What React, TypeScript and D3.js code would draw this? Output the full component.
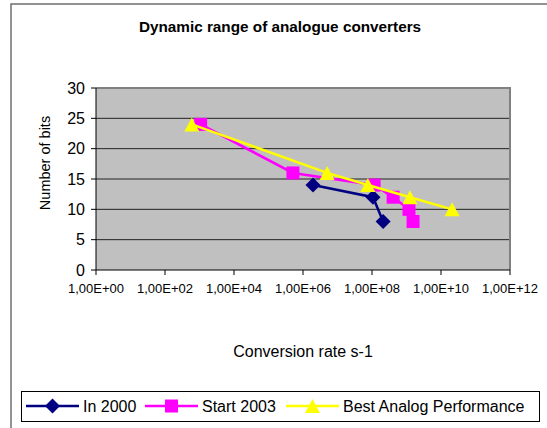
import * as d3 from "d3";

// series: [conversion rate, bits]
const in2000 = [
  [1.95e6, 14],
  [1.07e8, 12],
  [2.1e8, 8],
];
const start2003 = [
  [1.08e3, 24],
  [5.1e5, 16],
  [1.15e8, 14],
  [4.1e8, 12],
  [1.18e9, 10],
  [1.55e9, 8],
];
const bestAnalog = [
  [600, 24],
  [5e6, 16],
  [7.6e7, 14],
  [1.26e9, 12],
  [2.1e10, 10],
];
const xTicks = [1e0, 1e2, 1e4, 1e6, 1e8, 1e10, 1e12];
const yTicks = [0, 5, 10, 15, 20, 25, 30];
const seriesNames = ["In 2000", "Start 2003", "Best Analog Performance"];

const font = "'Liberation Sans', Arial, sans-serif";

// plot area
const left = 96,
  right = 510,
  top = 88,
  bottom = 270;

const x = d3.scaleLog().domain([1, 1e12]).range([left, right]);
const y = d3.scaleLinear().domain([0, 30]).range([bottom, top]);

function fmtExp(v: number) {
  const e = Math.round(Math.log10(v));
  return "1,00E+" + String(e).padStart(2, "0");
}

// marker shapes
function marker(kind: string, cx: number, cy: number, color: string, key: any) {
  if (kind === "diamond") {
    const r = 7.5;
    return (
      <path key={key} d={`M${cx},${cy - r}L${cx + r},${cy}L${cx},${cy + r}L${cx - r},${cy}Z`} fill={color} />
    );
  }
  if (kind === "square") {
    const s = 13;
    return <rect key={key} x={cx - s / 2} y={cy - s / 2} width={s} height={s} fill={color} />;
  }
  const w = 15,
    h = 14;
  return (
    <path
      key={key}
      d={`M${cx},${cy - h / 2}L${cx + w / 2},${cy + h / 2}L${cx - w / 2},${cy + h / 2}Z`}
      fill={color}
    />
  );
}

const series = [
  { name: seriesNames[0], data: in2000, color: "#000080", kind: "diamond" },
  { name: seriesNames[1], data: start2003, color: "#FF00FF", kind: "square" },
  { name: seriesNames[2], data: bestAnalog, color: "#FFFF00", kind: "triangle" },
];

const line = d3
  .line<number[]>()
  .x((d) => x(d[0]))
  .y((d) => y(d[1]));

// legend entry positions
const legendX = [26, 145, 286];
const legendLen = 53;

export default function App() {
  return (
    <svg
      width={547}
      height={428}
      style={{ position: "absolute", left: 0, top: 0, background: "#fff" }}
      fontFamily={font}
    >
      {/* chart border (only top and left fall inside) */}
      <rect x={11} y={4} width={600} height={500} fill="#fff" stroke="#6f6f6f" strokeWidth={1.5} />

      <text x={280} y={31.5} textAnchor="middle" fontWeight="bold" fontSize={15.3}>
        Dynamic range of analogue converters
      </text>

      {/* plot area */}
      <rect x={left} y={top} width={right - left} height={bottom - top} fill="#C0C0C0" />
      {yTicks.slice(1).map((t) => (
        <line key={t} x1={left} x2={right} y1={y(t)} y2={y(t)} stroke="#222" strokeWidth={1} />
      ))}
      <path d={`M${left},${top}H${right}V${bottom}`} fill="none" stroke="#808080" strokeWidth={2} />

      {/* axes */}
      <line x1={left} x2={left} y1={top} y2={bottom} stroke="#000" />
      <line x1={left} x2={right} y1={bottom} y2={bottom} stroke="#000" />
      {yTicks.map((t) => (
        <g key={t}>
          <line x1={left - 5} x2={left} y1={y(t)} y2={y(t)} stroke="#000" />
          <text x={85} y={y(t) + 5.8} textAnchor="end" fontSize={16}>
            {t}
          </text>
        </g>
      ))}
      {xTicks.map((t) => (
        <g key={t}>
          <line x1={x(t)} x2={x(t)} y1={bottom} y2={bottom + 5} stroke="#000" />
          <text x={x(t)} y={293} textAnchor="middle" fontSize={13}>
            {fmtExp(t)}
          </text>
        </g>
      ))}

      <text x={(left + right) / 2} y={357} textAnchor="middle" fontSize={16}>
        Conversion rate s-1
      </text>
      <text transform="translate(50,163) rotate(-90)" textAnchor="middle" fontSize={14.5}>
        Number of bits
      </text>

      {/* series */}
      {series.map((s, i) => (
        <g key={i}>
          <path d={line(s.data) || ""} fill="none" stroke={s.color} strokeWidth={2.5} />
          {s.data.map((d, j) => marker(s.kind, x(d[0]), y(d[1]), s.color, j))}
        </g>
      ))}

      {/* legend */}
      <rect x={21.5} y={391.5} width={518} height={30} fill="#fff" stroke="#000" strokeWidth={1} />
      {series.map((s, i) => (
        <g key={i}>
          <line
            x1={legendX[i]}
            x2={legendX[i] + legendLen}
            y1={406}
            y2={406}
            stroke={s.color}
            strokeWidth={2.5}
          />
          {marker(s.kind, legendX[i] + legendLen / 2, 406, s.color, "m")}
          <text x={legendX[i] + legendLen + 4} y={412} fontSize={16}>
            {s.name}
          </text>
        </g>
      ))}
    </svg>
  );
}
